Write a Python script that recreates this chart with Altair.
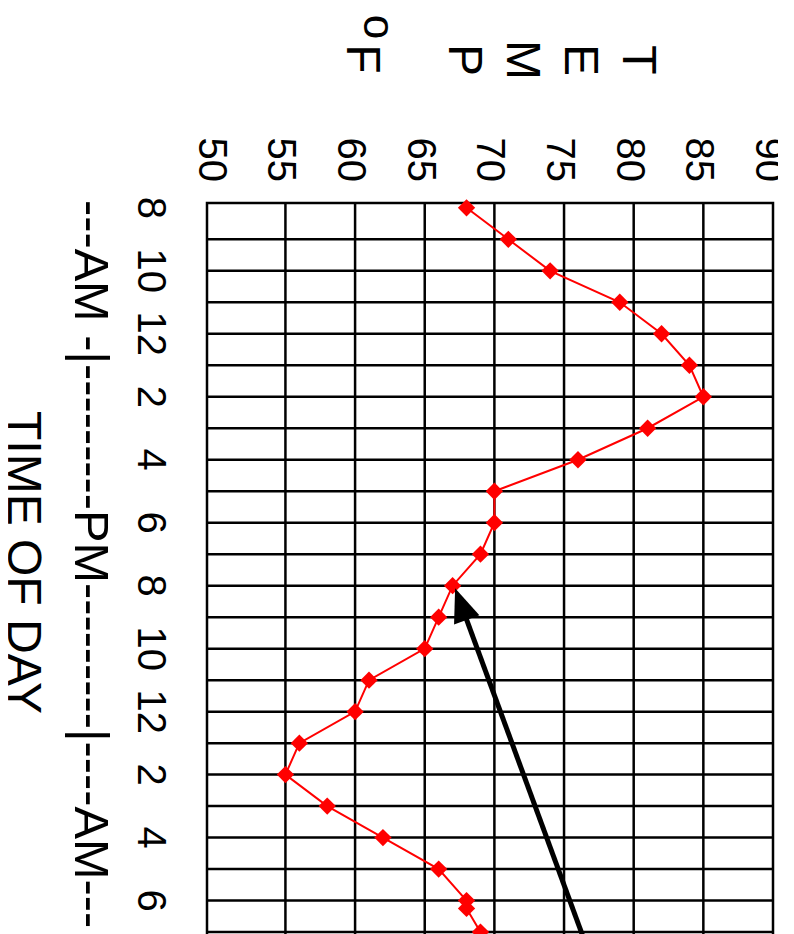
import altair as alt
import pandas as pd

# ---- data ----
HOURS = [8, 9, 10, 11, 12, 13, 14, 15, 16, 17, 18, 19, 20, 21, 22, 23, 24,
         25, 26, 27, 28, 29, 30, 30.25, 31]
TEMPS = [68, 71, 74, 79, 82, 84, 85, 81, 76, 70, 70, 69, 67, 66, 65, 61, 60,
         56, 55, 58, 62, 66, 68, 68, 69]
TEMP_TICKS = [50, 55, 60, 65, 70, 75, 80, 85, 90]
TEMP_TICK_LABELS = ["50", "55", "60", "65", "70", "75", "80", "85", "90"]
TEMP_GRID = [55, 60, 65, 70, 75, 80, 85]
TIME_TICKS = [8, 10, 12, 14, 16, 18, 20, 22, 24, 26, 28, 30]
TIME_TICK_LABELS = ["8", "10", "12", "2", "4", "6", "8", "10", "12", "2", "4", "6"]
TIME_GRID = list(range(9, 33))
ARROW_HOURS = [33.0, 20.9]      # tail, shaft end
ARROW_TEMPS = [77.9, 67.86]
ARROW_TIP_HOUR = [20.08]
ARROW_TIP_TEMP = [67.18]
TEMP_TITLE = "T\nE\nM\nP"
DEG_F = "F"
DEG_O = "o"
TIME_RANGE_TITLE = "---AM -|---------PM---------|----AM---"
TIME_TITLE = "TIME OF DAY"

FONT = "Liberation Sans"
W, H = 566, 770

xs = alt.Scale(domain=[49.37, 90], nice=False, zero=False)
ys = alt.Scale(domain=[7.847, 32.3], nice=False, zero=False, reverse=True)

df = pd.DataFrame({"hour": HOURS, "temp": TEMPS})
df_vgrid = pd.DataFrame({"t": TEMP_GRID})
df_hgrid = pd.DataFrame({"h": TIME_GRID})
df_tt = pd.DataFrame({"t": TEMP_TICKS, "lab": TEMP_TICK_LABELS})
df_ht = pd.DataFrame({"h": TIME_TICKS, "lab": TIME_TICK_LABELS})
df_arrow = pd.DataFrame({"h1": [ARROW_HOURS[0]], "t1": [ARROW_TEMPS[0]],
                         "h2": [ARROW_HOURS[1]], "t2": [ARROW_TEMPS[1]]})
df_tip = pd.DataFrame({"h": ARROW_TIP_HOUR, "t": ARROW_TIP_TEMP})
one = pd.DataFrame({"a": [0]})

vgrid = alt.Chart(df_vgrid).mark_rule(color="black", strokeWidth=2.5).encode(
    x=alt.X("t:Q", scale=xs, axis=None))
hgrid = alt.Chart(df_hgrid).mark_rule(color="black", strokeWidth=2.5).encode(
    y=alt.Y("h:Q", scale=ys, axis=None))

line = alt.Chart(df).mark_line(color="#ff0000", strokeWidth=2).encode(
    x=alt.X("temp:Q", scale=xs, axis=None),
    y=alt.Y("hour:Q", scale=ys, axis=None),
    order="hour:Q")
pts = alt.Chart(df).mark_point(shape="diamond", filled=True, size=300,
                               color="#ff0000", opacity=1).encode(
    x=alt.X("temp:Q", scale=xs, axis=None),
    y=alt.Y("hour:Q", scale=ys, axis=None))

shaft = alt.Chart(df_arrow).mark_rule(color="black", strokeWidth=5).encode(
    x=alt.X("t1:Q", scale=xs, axis=None), y=alt.Y("h1:Q", scale=ys, axis=None),
    x2="t2:Q", y2="h2:Q")
head = alt.Chart(df_tip).mark_point(shape="M0,0L-1,2.5L1,2.5Z", filled=True,
                                    size=729, angle=339.84, color="black",
                                    opacity=1).encode(
    x=alt.X("t:Q", scale=xs, axis=None), y=alt.Y("h:Q", scale=ys, axis=None))

temp_labels = alt.Chart(df_tt).mark_text(
    angle=90, align="right", baseline="alphabetic", dy=17, fontSize=40,
    font=FONT, color="black").encode(
    x=alt.X("t:Q", scale=xs, axis=None), y=alt.value(-21), text="lab:N")

time_labels = alt.Chart(df_ht).mark_text(
    angle=90, align="center", baseline="alphabetic", fontSize=40,
    font=FONT, color="black").encode(
    y=alt.Y("h:Q", scale=ys, axis=None), x=alt.value(-69), text="lab:N")

temp_title = alt.Chart(one).mark_text(
    angle=90, align="center", baseline="alphabetic", fontSize=48, font=FONT,
    lineBreak="\n", lineHeight=58, color="black").encode(
    x=alt.value(416), y=alt.value(-143), text=alt.value(TEMP_TITLE))
deg_f = alt.Chart(one).mark_text(
    angle=90, align="center", baseline="alphabetic", fontSize=48, font=FONT,
    color="black").encode(x=alt.value(140), y=alt.value(-144),
                          text=alt.value(DEG_F))
deg_o = alt.Chart(one).mark_text(
    angle=90, align="center", baseline="alphabetic", fontSize=44, font=FONT,
    color="black").encode(x=alt.value(157), y=alt.value(-176),
                          text=alt.value(DEG_O))

range_title = alt.Chart(one).mark_text(
    angle=90, align="left", baseline="alphabetic", fontSize=48.7, font=FONT,
    color="black").encode(x=alt.value(-132), y=alt.value(-3),
                          text=alt.value(TIME_RANGE_TITLE))
time_title = alt.Chart(one).mark_text(
    angle=90, align="left", baseline="alphabetic", fontSize=48, font=FONT,
    color="black").encode(x=alt.value(-199), y=alt.value(208),
                          text=alt.value(TIME_TITLE))

chart = alt.layer(
    vgrid, hgrid, line, pts, shaft, head, temp_labels, time_labels,
    temp_title, deg_f, deg_o, range_title, time_title
).properties(
    width=W, height=H,
    autosize=alt.AutoSizeParams(type="none"),
    padding={"left": 199, "top": 195, "right": 5, "bottom": 10},
    background="white",
).configure_view(stroke="black", strokeWidth=2.5)

chart.save("out.html", embed_options={"renderer": "svg", "actions": False})
